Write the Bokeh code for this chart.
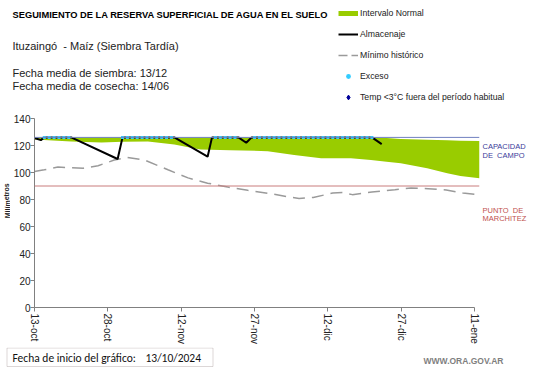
from bokeh.plotting import figure
from bokeh.layouts import column, row
from bokeh.models import Range1d, FixedTicker, Label, Legend, LegendItem, Span, BoxAnnotation
from bokeh.embed import file_html
from bokeh.resources import INLINE

# ---------------- data ----------------
fecha_inicio = "13/10/2024"
tick_days = [0, 15, 30, 45, 60, 75, 90]
tick_labels = ["13-oct", "28-oct", "12-nov", "27-nov", "12-dic", "27-dic", "11-ene"]
y_ticks = [0, 20, 40, 60, 80, 100, 120, 140]

capacidad_campo = 126
punto_marchitez = 90

# Intervalo normal (days since 13-oct)
normal_days = [0, 7.5, 13.7, 18, 23.2, 28.6, 32, 34, 40, 47.7, 53.1, 58.6, 64.7, 68.8, 72, 74.9, 80.3, 84.4, 87.1, 91]
normal_upper = [126, 126, 126, 126, 126, 126, 126, 126, 126, 126, 126, 126, 126, 126, 125.5, 124.8, 124.2, 123.8, 123.5, 123.4]
normal_lower = [124.4, 122.9, 122.2, 122.8, 123, 120.7, 118.3, 117.1, 116.5, 115.8, 112.9, 110.5, 110.5, 109.2, 108, 106.8, 103.1, 99.5, 97.5, 95.8]

# Almacenaje
storage_days = [0, 1.3, 2, 7.5, 17, 18, 28.6, 35.4, 36.3, 41.7, 43.3, 44.4, 69, 71]
storage_vals = [125.6, 124, 126, 126, 110, 126, 126, 111.7, 126, 126, 122, 126, 126, 121]

# Exceso (daily marks)
exceso_days = [2, 3, 4, 5, 6, 7,
               18, 19, 20, 21, 22, 23, 24, 25, 26, 27, 28,
               37, 38, 39, 40, 41,
               45, 46, 47, 48, 49, 50, 51, 52, 53, 54, 55, 56, 57, 58, 59, 60,
               61, 62, 63, 64, 65, 66, 67, 68, 69]
exceso_vals = [126] * len(exceso_days)

# Minimo historico
minimo_days = [0, 2, 4.8, 10, 13, 16.3, 19, 22.5, 27.3, 31.4, 35.4, 39.5, 43.6, 48, 51.8, 54.1, 57,
               61, 63, 65, 69, 73.7, 77, 80.5, 84.2, 87.6, 91]
minimo_vals = [100.7, 102, 104, 103.2, 105, 109.2, 111.2, 109.2, 102, 96, 92.1, 89.2, 86.8, 84.5, 82, 80.8, 81.5,
               84.8, 85.2, 83.6, 85.5, 87.2, 88.5, 88, 87, 84.8, 83.4]

# Temp < 3C (no events)
temp_days = []
temp_vals = []

# ---------------- styles ----------------
GREEN = "#99cc00"
CYAN = "#33ccff"
GRAY = "#9a9a9a"
NAVY = "#000099"
FONT = "Liberation Sans"
NB = "\u00a0"


def panel(w, h, x0, x1, y0, y1):
    f = figure(width=w, height=h, x_range=Range1d(x0, x1), y_range=Range1d(y1, y0),
               x_axis_type=None, y_axis_type=None, title=None, min_border=0,
               output_backend="svg", toolbar_location=None)
    f.outline_line_color = None
    return f


def lab(text, x, y, size, color="#222222", bold=False, font=FONT, align="left", **kw):
    return Label(x=x, y=y, text=text, text_font=font, text_font_size=size, text_color=color,
                 text_font_style="bold" if bold else "normal", text_baseline="middle",
                 text_align=align, **kw)


# ---------------- header ----------------
HEAD_H = 108
head = panel(541, HEAD_H, 0, 541, 0, HEAD_H)
head.add_layout(lab("SEGUIMIENTO DE LA RESERVA SUPERFICIAL DE AGUA EN EL SUELO", 12, 14, "9.3px", color="#000000", bold=True))
head.add_layout(lab("Ituzaingó" + NB + NB + "- Maíz (Siembra Tardía)", 12, 45, "11px"))
head.add_layout(lab("Fecha media de siembra: 13/12", 12, 72, "11px"))
head.add_layout(lab("Fecha media de cosecha: 14/06", 12, 85, "11px"))

# legend sample glyphs (placed off-canvas; only their legend swatches are seen)
OFF_X, OFF_Y = [-40, -20], [-40, -40]
l_area = head.line(OFF_X, OFF_Y, line_color=GREEN, line_width=5)
l_sto = head.line(OFF_X, OFF_Y, line_color="black", line_width=2)
l_min = head.line(OFF_X, OFF_Y, line_color=GRAY, line_width=1.5, line_dash="9 4")
l_exc = head.scatter(OFF_X, OFF_Y, marker="circle", size=3, fill_color=CYAN, line_color=None)
l_tmp = head.scatter(OFF_X, OFF_Y, marker="diamond", size=7, fill_color=NAVY, line_color=NAVY)
legend = Legend(items=[
    LegendItem(label="Intervalo Normal", renderers=[l_area]),
    LegendItem(label="Almacenaje", renderers=[l_sto]),
    LegendItem(label="Mínimo histórico", renderers=[l_min]),
    LegendItem(label="Exceso", renderers=[l_exc]),
    LegendItem(label="Temp <3°C fuera del período habitual", renderers=[l_tmp]),
], location=(338, HEAD_H - 103), orientation="vertical",
    background_fill_alpha=0, border_line_color=None, padding=0, margin=0,
    spacing=9, glyph_width=20, glyph_height=12, label_height=12, label_standoff=2,
    label_text_font=FONT, label_text_font_size="8.7px", label_text_color="#222222")
head.add_layout(legend)

# ---------------- main chart ----------------
LEFT_W = 10
MAIN_W, MAIN_H = 471, 239
p = figure(width=MAIN_W, height=MAIN_H, x_range=Range1d(0, 91), y_range=Range1d(0, 140),
           output_backend="svg", toolbar_location=None, title=None,
           min_border_left=23, min_border_right=2, min_border_top=10, min_border_bottom=38)
p.outline_line_color = None
p.grid.visible = False

ax = p.xaxis[0]
ax.ticker = FixedTicker(ticks=tick_days)
ax.bounds = (tick_days[0], tick_days[-1])
ax.major_label_overrides = {d: l for d, l in zip(tick_days, tick_labels)}
ax.major_label_orientation = "vertical"
ax.major_label_text_font = FONT
ax.major_label_text_font_size = "10px"
ax.major_label_text_color = "#222222"
ax.major_tick_out = 4
ax.major_tick_in = 0
ax.minor_tick_line_color = None
ax.axis_line_color = "#808080"
ax.major_tick_line_color = "#808080"
ax.major_label_standoff = 2

ay = p.yaxis[0]
ay.ticker = FixedTicker(ticks=y_ticks)
ay.major_label_text_font = FONT
ay.major_label_text_font_size = "10px"
ay.major_label_text_color = "#222222"
ay.major_tick_out = 4
ay.major_tick_in = 0
ay.minor_tick_line_color = None
ay.axis_line_color = "#808080"
ay.major_tick_line_color = "#808080"
ay.major_label_standoff = 0

p.varea(x=normal_days, y1=normal_lower, y2=normal_upper, fill_color=GREEN)
p.line(minimo_days, minimo_vals, line_color=GRAY, line_width=1.5, line_dash="12 7")
p.line(storage_days, storage_vals, line_color="black", line_width=2)
p.scatter(exceso_days, exceso_vals, marker="square", size=3, fill_color=CYAN, line_color=None)
p.scatter(temp_days, temp_vals, marker="diamond", size=7, fill_color=NAVY, line_color=NAVY)

p.add_layout(Span(location=capacidad_campo, dimension="width", line_color="#7080c0", line_width=1))
p.add_layout(Span(location=punto_marchitez, dimension="width", line_color="#c97c7c", line_width=1))

# ---------------- left (axis title) ----------------
left = panel(LEFT_W, MAIN_H, 0, LEFT_W, HEAD_H, HEAD_H + MAIN_H)
left.add_layout(lab("Milímetros", 6.5, 212, "7px", bold=True, align="center", angle=1.5708))

# ---------------- right labels ----------------
RX = LEFT_W + MAIN_W
right = panel(541 - RX, MAIN_H, RX, 541, HEAD_H, HEAD_H + MAIN_H)
right.add_layout(lab("CAPACIDAD", 482, 144, "7.5px", color="#3a3a9a"))
right.add_layout(lab("DE" + NB + NB + "CAMPO", 482, 155, "7.5px", color="#3a3a9a"))
right.add_layout(lab("PUNTO" + NB + NB + "DE", 482, 224, "7.5px", color="#c0504d"))
right.add_layout(lab("MARCHITEZ", 482, 235, "7.5px", color="#c0504d"))

# ---------------- footer ----------------
FOOT_TOP = HEAD_H + MAIN_H
FOOT_FONT = "Carlito, 'Liberation Sans Narrow', Lato"
foot = panel(541, 368 - FOOT_TOP, 0, 541, FOOT_TOP, 368)
foot.add_layout(BoxAnnotation(left=6.5, right=212.5, top=FOOT_TOP + 0.5, bottom=366,
                              fill_color=None, line_color="#8c7b7b", line_width=1))
foot.add_layout(lab("Fecha de inicio del gráfico:", 12, 357, "11.5px", color="#111111", font=FOOT_FONT))
foot.add_layout(lab(fecha_inicio, 145, 357, "11.5px", color="#111111", font=FOOT_FONT))
foot.add_layout(lab("WWW.ORA.GOV.AR", 503, 360, "8.5px", color="#7f7f7f", bold=True, align="right"))

layout = column(head, row(left, p, right), foot)
open("out.html", "w").write(file_html(layout, INLINE))
